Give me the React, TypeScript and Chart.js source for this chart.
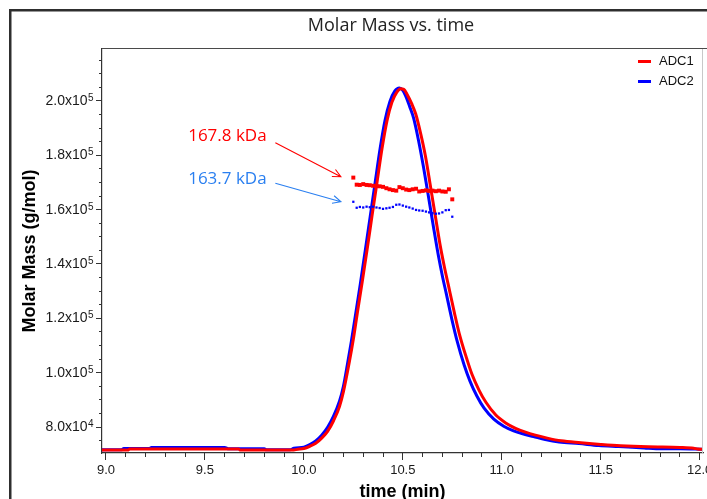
import React, { useEffect, useRef } from "react";
import { Chart, registerables } from "chart.js";
Chart.register(...registerables);

// ---------- text ----------
const TITLE = "Molar Mass vs. time";
const X_TITLE = "time (min)";
const Y_TITLE = "Molar Mass (g/mol)";
const SERIES_NAMES = ["ADC1", "ADC2"];
const ANNOTATION_LABELS = ["167.8 kDa", "163.7 kDa"];

// ---------- colours ----------
const RED = "#ff0000";
const BLUE = "#0000ff";
const NOTE_BLUE = "#2a7ff0";

// ---------- axis ranges / ticks ----------
const X_MIN = 8.98;
const X_MAX = 12.017;
const Y_MIN = 70430;
const Y_MAX = 219140;
const xMajorTicks = [9.0, 9.5, 10.0, 10.5, 11.0, 11.5, 12.0];
const xMinorTicks = [
  9.0, 9.1, 9.2, 9.3, 9.4, 9.5, 9.6, 9.7, 9.8, 9.9, 10.0, 10.1, 10.2, 10.3, 10.4, 10.5, 10.6, 10.7,
  10.8, 10.9, 11.0, 11.1, 11.2, 11.3, 11.4, 11.5, 11.6, 11.7, 11.8, 11.9, 12.0,
];
const yMajorTicks = [80000, 100000, 120000, 140000, 160000, 180000, 200000];
const yMinorTicks = [
  75000, 80000, 85000, 90000, 95000, 100000, 105000, 110000, 115000, 120000, 125000, 130000,
  135000, 140000, 145000, 150000, 155000, 160000, 165000, 170000, 175000, 180000, 185000, 190000,
  195000, 200000, 205000, 210000, 215000,
];

// ---------- ADC1 trace (red line) ----------
const adc1Time = [
  8.98, 9.11, 9.12, 9.67, 9.68, 9.94, 9.97, 10.0, 10.03, 10.06, 10.09, 10.12, 10.15, 10.18, 10.2,
  10.23, 10.25, 10.27, 10.295, 10.32, 10.345, 10.37, 10.395, 10.42, 10.445, 10.47, 10.49, 10.505,
  10.52, 10.545, 10.565, 10.59, 10.615, 10.64, 10.665, 10.69, 10.71, 10.73, 10.76, 10.785, 10.825,
  10.85, 10.885, 10.92, 10.97, 11.02, 11.07, 11.12, 11.17, 11.23, 11.3, 11.4, 11.5, 11.6, 11.74,
  11.9, 11.97, 11.99, 12.017,
];
const adc1Trace = [
  71500, 71500, 71900, 71900, 71500, 71500, 71800, 72100, 72900, 74000, 75900, 78400, 82300, 87500,
  93000, 104000, 112300, 121900, 133500, 145500, 158000, 170200, 182500, 192700, 199500, 203300,
  204500, 204300, 202700, 199000, 195300, 188100, 179500, 168500, 157400, 146400, 139000, 132300,
  122300, 114500, 104700, 99300, 93600, 89100, 84400, 81500, 79500, 78100, 77000, 75900, 74900,
  74200, 73600, 73100, 72700, 72500, 72200, 71900, 71800,
];

// ---------- ADC2 trace (blue line) ----------
const adc2Time = [
  8.98, 9.08, 9.09, 9.22, 9.23, 9.6, 9.62, 9.8, 9.81, 9.93, 9.95, 10.0, 10.03, 10.06, 10.09, 10.12,
  10.15, 10.18, 10.2, 10.22, 10.24, 10.26, 10.285, 10.31, 10.335, 10.36, 10.385, 10.41, 10.435,
  10.46, 10.483, 10.5, 10.515, 10.535, 10.555, 10.58, 10.605, 10.63, 10.655, 10.68, 10.7, 10.72,
  10.75, 10.775, 10.81, 10.84, 10.875, 10.91, 10.96, 11.01, 11.06, 11.11, 11.16, 11.22, 11.29,
  11.39, 11.49, 11.59, 11.72, 11.78, 11.9, 12.017,
];
const adc2Trace = [
  71600, 71600, 72100, 72100, 72500, 72500, 72000, 72000, 71600, 71600, 72200, 72600, 73500, 74900,
  77000, 79900, 84000, 89500, 95000, 103000, 111500, 120800, 132500, 144800, 157300, 169800,
  182300, 192800, 199800, 203700, 204800, 203900, 201800, 197900, 193600, 185300, 175500, 164700,
  153600, 143000, 135600, 129000, 119000, 111500, 102800, 96800, 91300, 87000, 82900, 80300, 78600,
  77400, 76500, 75400, 74500, 73900, 73200, 72800, 72300, 72000, 72000, 71800,
];

// ---------- molar mass points across the peak ----------
const massTime = [
  10.25, 10.267, 10.283, 10.3, 10.317, 10.333, 10.35, 10.367, 10.383, 10.4, 10.417, 10.433, 10.45,
  10.467, 10.483, 10.5, 10.517, 10.533, 10.55, 10.567, 10.583, 10.6, 10.617, 10.633, 10.65, 10.667,
  10.683, 10.7, 10.717, 10.733, 10.75,
];
const adc1Mass = [
  171800, 169200, 169100, 169400, 169100, 169000, 168800, 168700, 168600, 168400, 167900, 167500,
  167200, 167000, 168300, 167900, 167400, 167200, 167500, 167700, 166700, 166900, 167100, 166900,
  167000, 166800, 167000, 166700, 166600, 167500, 163800,
];
const adc2Mass = [
  162900, 160700, 161000, 160800, 161100, 160900, 161100, 160800, 160600, 160300, 160500, 160700,
  161000, 161800, 161900, 161500, 161100, 160800, 160400, 159900, 159700, 159600, 159300, 159000,
  158700, 158500, 158600, 159000, 159800, 159900, 157400,
];

// ---------- annotation anchors (data space) ----------
const noteTextTime = [9.812, 9.812];
const noteTextMass = [186900, 171100];
const arrowFromTime = [9.856, 9.856];
const arrowFromMass = [184650, 169700];
const arrowToTime = [10.187, 10.187];
const arrowToMass = [172140, 162930];

const exponentOf = (v: number) => Math.floor(Math.log10(v) + 1e-9);
const mantissaLabel = (v: number) => (v / Math.pow(10, exponentOf(v))).toFixed(1) + "x10";

const zip = (xs: number[], ys: number[]) => xs.map((x, i) => ({ x, y: ys[i] }));

const AXIS_COLOR = "#333333";
const TICK_TEXT = "#1a1a1a";
const FONT_FAMILY = "'Liberation Sans', Arial, sans-serif";

const decorPlugin = {
  id: "decor",
  beforeDraw(chart: any) {
    const { ctx, width, height } = chart;
    ctx.save();
    ctx.fillStyle = "#ffffff";
    ctx.fillRect(0, 0, width, height);
    ctx.restore();
  },
  afterDraw(chart: any) {
    const { ctx, width, height, chartArea: a, scales } = chart;
    const xs = scales.x;
    const ys = scales.y;
    ctx.save();
    // outer frame
    ctx.strokeStyle = "#2e2e2e";
    ctx.lineWidth = 2.5;
    ctx.beginPath();
    ctx.moveTo(10.25, height + 5);
    ctx.lineTo(10.25, 10.25);
    ctx.lineTo(width + 5, 10.25);
    ctx.stroke();
    // plot box top + right
    ctx.strokeStyle = "#4a4a4a";
    ctx.lineWidth = 1.2;
    ctx.beginPath();
    ctx.moveTo(a.left, a.top - 0.5);
    ctx.lineTo(width + 2, a.top - 0.5);
    ctx.stroke();
    ctx.strokeStyle = "#c8c8c8";
    ctx.lineWidth = 1;
    ctx.beginPath();
    ctx.moveTo(a.right - 0.5, a.top);
    ctx.lineTo(a.right - 0.5, a.bottom);
    ctx.stroke();

    // y tick exponents (superscript part of the "x10^n" labels)
    ctx.fillStyle = TICK_TEXT;
    ctx.font = "10px " + FONT_FAMILY;
    ctx.textAlign = "left";
    ctx.textBaseline = "alphabetic";
    ys.ticks.forEach((t: any) => {
      const py = ys.getPixelForValue(t.value);
      ctx.fillText(String(exponentOf(t.value)), ys.right - 14, py);
    });

    // title
    ctx.fillStyle = "#222222";
    ctx.font = "18px 'Open Sans', sans-serif";
    ctx.textAlign = "center";
    ctx.textBaseline = "middle";
    ctx.fillText(TITLE, 391, 26);

    // legend
    const colors = [RED, BLUE];
    ctx.font = "13px " + FONT_FAMILY;
    ctx.textAlign = "left";
    SERIES_NAMES.forEach((name, i) => {
      const y = a.top + 12.5 + i * 20;
      ctx.strokeStyle = colors[i];
      ctx.lineWidth = 3;
      ctx.beginPath();
      ctx.moveTo(a.right - 65, y);
      ctx.lineTo(a.right - 52, y);
      ctx.stroke();
      ctx.fillStyle = "#111111";
      ctx.fillText(name, a.right - 44, y);
    });

    // annotations
    const noteColors = [RED, NOTE_BLUE];
    ANNOTATION_LABELS.forEach((label, i) => {
      ctx.fillStyle = noteColors[i];
      ctx.font = "17px 'Open Sans', sans-serif";
      ctx.textAlign = "right";
      ctx.textBaseline = "middle";
      ctx.fillText(label, xs.getPixelForValue(noteTextTime[i]), ys.getPixelForValue(noteTextMass[i]));
      const x0 = xs.getPixelForValue(arrowFromTime[i]);
      const y0 = ys.getPixelForValue(arrowFromMass[i]);
      const x1 = xs.getPixelForValue(arrowToTime[i]);
      const y1 = ys.getPixelForValue(arrowToMass[i]);
      ctx.strokeStyle = noteColors[i];
      ctx.lineWidth = 1.1;
      ctx.beginPath();
      ctx.moveTo(x0, y0);
      ctx.lineTo(x1, y1);
      const ang = Math.atan2(y1 - y0, x1 - x0);
      const L = 9;
      const spread = 0.45;
      ctx.moveTo(x1 - L * Math.cos(ang - spread), y1 - L * Math.sin(ang - spread));
      ctx.lineTo(x1, y1);
      ctx.lineTo(x1 - L * Math.cos(ang + spread), y1 - L * Math.sin(ang + spread));
      ctx.stroke();
    });
    ctx.restore();
  },
};

export default function App() {
  const ref = useRef<HTMLCanvasElement | null>(null);
  useEffect(() => {
    if (!ref.current) return;
    const chart = new Chart(ref.current, {
      type: "scatter",
      data: {
        datasets: [
          {
            label: SERIES_NAMES[0] + " molar mass",
            data: zip(massTime, adc1Mass),
            showLine: false,
            pointStyle: "rect",
            pointRadius: 2.8,
            pointBorderWidth: 0,
            backgroundColor: RED,
            borderColor: RED,
          },
          {
            label: SERIES_NAMES[1] + " molar mass",
            data: zip(massTime, adc2Mass),
            showLine: false,
            pointStyle: "rect",
            pointRadius: 1.6,
            pointBorderWidth: 0,
            backgroundColor: BLUE,
            borderColor: BLUE,
          },
          {
            label: SERIES_NAMES[0],
            data: zip(adc1Time, adc1Trace),
            showLine: true,
            pointRadius: 0,
            borderColor: RED,
            backgroundColor: RED,
            borderWidth: 3,
            cubicInterpolationMode: "monotone",
          },
          {
            label: SERIES_NAMES[1],
            data: zip(adc2Time, adc2Trace),
            showLine: true,
            pointRadius: 0,
            borderColor: BLUE,
            backgroundColor: BLUE,
            borderWidth: 3,
            cubicInterpolationMode: "monotone",
          },
        ],
      },
      options: {
        responsive: false,
        animation: false,
        events: [],
        font: { family: FONT_FAMILY },
        layout: { padding: { top: 49, right: 1, left: 0, bottom: 0 } },
        plugins: {
          legend: { display: false },
          title: { display: false },
          tooltip: { enabled: false },
        },
        scales: {
          x: {
            type: "linear",
            position: "bottom",
            weight: 1,
            min: X_MIN,
            max: X_MAX,
            afterFit: (s: any) => { s.height = 46; s.paddingLeft = 0; s.paddingRight = 0; },
            afterBuildTicks: (s: any) => { s.ticks = xMajorTicks.map((v) => ({ value: v })); },
            ticks: {
              autoSkip: false,
              maxRotation: 0,
              padding: 3,
              color: TICK_TEXT,
              font: { size: 13, family: FONT_FAMILY },
              callback: (v: any) => Number(v).toFixed(1),
            },
            grid: { display: true, drawOnChartArea: false, drawTicks: true, tickLength: 7, color: AXIS_COLOR, lineWidth: 1 },
            border: { display: true, color: AXIS_COLOR, width: 1.2 },
            title: {
              display: true,
              text: X_TITLE,
              color: "#000000",
              font: { size: 18, weight: "bold", lineHeight: 1, family: FONT_FAMILY },
              padding: { top: 0, bottom: -2 },
            },
          },
          xMinor: {
            type: "linear",
            position: "bottom",
            weight: 0,
            min: X_MIN,
            max: X_MAX,
            afterFit: (s: any) => { s.height = 0; s.paddingLeft = 0; s.paddingRight = 0; },
            afterBuildTicks: (s: any) => { s.ticks = xMinorTicks.map((v) => ({ value: v })); },
            ticks: { display: false, autoSkip: false },
            grid: { display: true, drawOnChartArea: false, drawTicks: true, tickLength: 4, color: AXIS_COLOR, lineWidth: 1 },
            border: { display: false },
          },
          y: {
            type: "linear",
            position: "left",
            weight: 1,
            min: Y_MIN,
            max: Y_MAX,
            afterFit: (s: any) => { s.width = 102; s.paddingTop = 0; s.paddingBottom = 0; },
            afterBuildTicks: (s: any) => { s.ticks = yMajorTicks.map((v) => ({ value: v })); },
            ticks: {
              autoSkip: false,
              padding: 8.5,
              color: TICK_TEXT,
              font: { size: 14, family: FONT_FAMILY },
              callback: (v: any) => mantissaLabel(Number(v)),
            },
            grid: { display: true, drawOnChartArea: false, drawTicks: true, tickLength: 6, color: AXIS_COLOR, lineWidth: 1 },
            border: { display: true, color: AXIS_COLOR, width: 1.2 },
            title: {
              display: true,
              text: Y_TITLE,
              color: "#000000",
              font: { size: 18, weight: "bold", lineHeight: 1.2, family: FONT_FAMILY },
              padding: { top: 19, bottom: 0 },
            },
          },
          yMinor: {
            type: "linear",
            position: "left",
            weight: 0,
            min: Y_MIN,
            max: Y_MAX,
            afterFit: (s: any) => { s.width = 0; s.paddingTop = 0; s.paddingBottom = 0; },
            afterBuildTicks: (s: any) => { s.ticks = yMinorTicks.map((v) => ({ value: v })); },
            ticks: { display: false, autoSkip: false },
            grid: { display: true, drawOnChartArea: false, drawTicks: true, tickLength: 3, color: AXIS_COLOR, lineWidth: 1 },
            border: { display: false },
          },
        },
      } as any,
      plugins: [decorPlugin],
    });
    return () => chart.destroy();
  }, []);
  return (
    <div style={{ position: "fixed", left: 0, top: 0, width: 707, height: 499, background: "#fff" }}>
      <canvas ref={ref} width={707} height={499} style={{ display: "block" }} />
    </div>
  );
}
